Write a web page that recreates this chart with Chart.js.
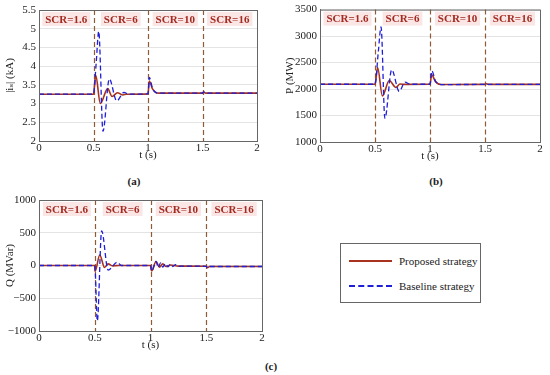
<!DOCTYPE html>
<html>
<head>
<meta charset="utf-8">
<script src="https://cdn.jsdelivr.net/npm/chart.js@4"></script>
<style>
  body { margin: 0; background: #fff; width: 550px; height: 375px; position: relative; overflow: hidden; font-family: "Liberation Serif", "DejaVu Serif", serif; }
  .box { position: absolute; }
  .cap { position: absolute; font-weight: bold; font-size: 11px; color: #222; transform: translateX(-50%); }
  .legend { position: absolute; left: 340px; top: 243px; width: 139px; height: 58px; border: 1px solid #666; background: #fff; font-size: 11px; color: #222; }
  .legend .row { position: absolute; left: 8px; height: 14px; line-height: 14px; }
  .legend .swatch { position: absolute; left: 0; top: 6px; width: 43px; height: 0; }
  .legend .lbl { position: absolute; left: 50px; top: 0; white-space: nowrap; }
</style>
</head>
<body>
<div class="box" style="left:0;top:0;width:262px;height:165px"><canvas id="chart-a"></canvas></div>
<div class="box" style="left:280px;top:0;width:265px;height:166px"><canvas id="chart-b"></canvas></div>
<div class="box" style="left:0;top:190px;width:267px;height:165px"><canvas id="chart-c"></canvas></div>
<div class="cap" style="left:134px;top:175px">(a)</div>
<div class="cap" style="left:436px;top:175px">(b)</div>
<div class="cap" style="left:271px;top:360px">(c)</div>
<div class="legend">
  <div class="row" style="top:10px"><div class="swatch" style="border-top:2px solid #a8321f"></div><span class="lbl">Proposed strategy</span></div>
  <div class="row" style="top:35px"><div class="swatch" style="border-top:2px dashed #1f1fd8"></div><span class="lbl">Baseline strategy</span></div>
</div>
<script>
// SCR regions shared by all three panels
const scrBounds = [0.5, 1, 1.5];
const scrLabels = ["SCR=1.6", "SCR=6", "SCR=10", "SCR=16"];

// (a) grid current magnitude |i_s| (kA)
const tIsProp = [0, 0.5, 0.52, 0.563, 0.63, 0.67, 0.72, 0.77, 0.8, 1.0, 1.012, 1.04, 1.07, 1.1, 1.5, 1.51, 1.53, 2.0];
const isProp  = [3.25, 3.25, 3.76, 3.0, 3.40, 3.19, 3.29, 3.23, 3.25, 3.26, 3.60, 3.40, 3.30, 3.28, 3.28, 3.31, 3.28, 3.28];
const tIsBase = [0, 0.5, 0.525, 0.548, 0.587, 0.645, 0.713, 0.78, 0.82, 1.0, 1.012, 1.04, 1.07, 1.1, 1.5, 1.51, 1.53, 2.0];
const isBase  = [3.25, 3.25, 4.1, 4.93, 2.26, 3.66, 3.07, 3.30, 3.25, 3.26, 3.70, 3.42, 3.30, 3.28, 3.28, 3.31, 3.28, 3.28];

// (b) active power P (MW)
const tPProp = [0, 0.5, 0.524, 0.567, 0.63, 0.69, 0.727, 0.77, 1.0, 1.015, 1.05, 1.1, 1.5, 1.51, 1.53, 2.0];
const pProp  = [2090, 2090, 2406, 1870, 2160, 2030, 2094, 2088, 2090, 2270, 2140, 2085, 2088, 2100, 2088, 2088];
const tPBase = [0, 0.5, 0.53, 0.555, 0.59, 0.652, 0.72, 0.773, 0.82, 1.0, 1.017, 1.05, 1.1, 1.5, 1.51, 1.53, 2.0];
const pBase  = [2090, 2090, 2700, 3175, 1445, 2363, 1956, 2131, 2090, 2090, 2345, 2150, 2085, 2088, 2100, 2088, 2088];

// (c) reactive power Q (MVar)
const tQProp = [0, 0.5, 0.503, 0.545, 0.588, 0.62, 0.66, 0.72, 1.0, 1.01, 1.05, 1.08, 1.11, 1.14, 1.18, 1.25, 1.5, 1.51, 1.53, 2.0];
const qProp  = [0, 0, -90, 160, -30, 25, -5, 0, 0, -85, 60, -25, 25, -15, 8, -10, -12, -32, -15, -15];
const tQBase = [0, 0.5, 0.505, 0.523, 0.562, 0.62, 0.70, 0.74, 0.78, 1.0, 1.01, 1.05, 1.07, 1.09, 1.11, 1.135, 1.157, 1.18, 1.2, 1.225, 1.25, 1.3, 1.5, 1.51, 1.53, 2.0];
const qBase  = [0, 0, -110, -845, 530, -70, 50, 0, 0, 0, -87, 61, -30, 40, -25, 30, -20, 20, -15, 12, -12, -10, -12, -35, -15, -15];

const toPoints = (ts, vs) => ts.map((t, i) => ({ x: t, y: vs[i] }));

const fontTick = { family: "'Liberation Serif', 'DejaVu Serif', serif", size: 11 };

// draws the SCR dividers, the shaded SCR tags and the full axes box
const scrPlugin = {
    id: 'scr',
    beforeDatasetsDraw(chart) {
        const { ctx, chartArea, scales } = chart;
        const x = scales.x;
        ctx.save();
        // region tags
        const edges = [0].concat(scrBounds, [2]);
        ctx.font = "bold 11px 'Liberation Serif', 'DejaVu Serif', serif";
        ctx.textAlign = 'center';
        ctx.textBaseline = 'middle';
        for (let i = 0; i < scrLabels.length; i++) {
            const cx = (x.getPixelForValue(edges[i]) + x.getPixelForValue(edges[i + 1])) / 2;
            const cy = chartArea.top + 9;
            const w = ctx.measureText(scrLabels[i]).width + 6;
            ctx.fillStyle = '#fbe6e6';
            ctx.fillRect(cx - w / 2, cy - 7, w, 14);
            ctx.fillStyle = '#a32a20';
            ctx.fillText(scrLabels[i], cx, cy + 1);
        }
        // dashed dividers
        ctx.strokeStyle = '#8e5b34';
        ctx.lineWidth = 1.2;
        ctx.setLineDash([5, 3]);
        scrBounds.forEach(b => {
            const px = Math.round(x.getPixelForValue(b)) + 0.5;
            ctx.beginPath();
            ctx.moveTo(px, chartArea.top);
            ctx.lineTo(px, chartArea.bottom);
            ctx.stroke();
        });
        ctx.restore();
    },
    afterDraw(chart) {
        const { ctx, chartArea } = chart;
        ctx.save();
        ctx.strokeStyle = '#666';
        ctx.lineWidth = 1;
        ctx.strokeRect(chartArea.left + 0.5, chartArea.top + 0.5, chartArea.right - chartArea.left, chartArea.bottom - chartArea.top);
        ctx.restore();
    }
};

function makeChart(id, cfg) {
    return new Chart(document.getElementById(id).getContext('2d'), {
        type: 'line',
        data: {
            datasets: [{
                label: 'Proposed strategy',
                data: toPoints(cfg.tProp, cfg.prop),
                borderColor: '#a8321f',
                borderWidth: 1.6,
                pointRadius: 0,
                cubicInterpolationMode: 'monotone',
                order: 1
            }, {
                label: 'Baseline strategy',
                data: toPoints(cfg.tBase, cfg.base),
                borderColor: '#1f1fd8',
                borderWidth: 1.3,
                borderDash: [5, 3],
                pointRadius: 0,
                cubicInterpolationMode: 'monotone',
                order: 0
            }]
        },
        options: {
            responsive: true,
            maintainAspectRatio: false,
            animation: false,
            layout: { padding: { top: cfg.padTop, right: 5, left: 0, bottom: 0 } },
            plugins: { legend: { display: false }, tooltip: { enabled: false } },
            scales: {
                x: {
                    type: 'linear',
                    min: 0,
                    max: 2,
                    afterFit: s => { s.height = 24; },
                    ticks: { stepSize: 0.5, font: fontTick, color: '#222', padding: 1, maxRotation: 0, callback: v => String(v) },
                    grid: { display: false, drawTicks: false },
                    border: { color: '#666' },
                    title: { display: true, text: 't (s)', font: fontTick, color: '#222', padding: { top: 0, bottom: 3 } }
                },
                y: {
                    min: cfg.min,
                    max: cfg.max,
                    afterFit: s => { s.width = cfg.yWidth; },
                    ticks: { stepSize: cfg.step, font: fontTick, color: '#222', padding: 3, callback: v => String(v).replace('-', '\u2212') },
                    grid: { color: '#e4e4e4', drawTicks: false },
                    border: { color: '#666' },
                    title: { display: true, text: cfg.yTitle, font: fontTick, color: '#222', padding: { top: 4, bottom: 0 } }
                }
            }
        },
        plugins: [scrPlugin]
    });
}

makeChart('chart-a', { tProp: tIsProp, prop: isProp, tBase: tIsBase, base: isBase, min: 2, max: 5.5, step: 0.5, yTitle: '|i\u209b| (kA)', yWidth: 39, padTop: 10 });
makeChart('chart-b', { tProp: tPProp, prop: pProp, tBase: tPBase, base: pBase, min: 1000, max: 3500, step: 500, yTitle: 'P (MW)', yWidth: 40, padTop: 9 });
makeChart('chart-c', { tProp: tQProp, prop: qProp, tBase: tQBase, base: qBase, min: -1000, max: 1000, step: 500, yTitle: 'Q (MVar)', yWidth: 39, padTop: 10 });
</script>
</body>
</html>
